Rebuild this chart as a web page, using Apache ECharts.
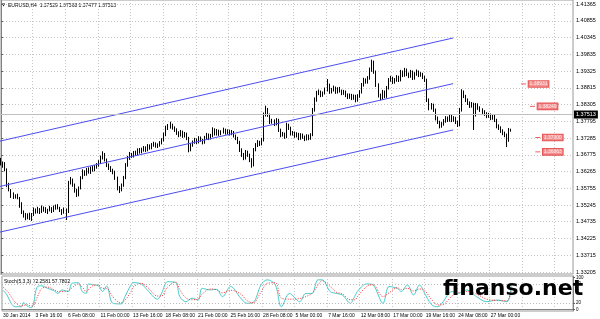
<!DOCTYPE html>
<html><head><meta charset="utf-8">
<script src="https://cdn.jsdelivr.net/npm/echarts@6/dist/echarts.min.js"></script>
<style>html,body{margin:0;padding:0;background:#fff}#c{width:600px;height:319px}</style>
</head><body><div id="c"></div>
<script>
const symbolName = 'EURUSD,H4';
const lastBar = [1.37529, 1.37568, 1.37477, 1.37513];
const tickLabels = ['30 Jan 2014','3 Feb 16:00','6 Feb 08:00','11 Feb 00:00','13 Feb 16:00','18 Feb 08:00','21 Feb 00:00','25 Feb 16:00','28 Feb 08:00','5 Mar 00:00','7 Mar 16:00','12 Mar 08:00','17 Mar 00:00','19 Mar 16:00','24 Mar 08:00','27 Mar 00:00'];
const barsPerTick = 16;
const slotCount = 281;
const priceTicks = [1.41365,1.40855,1.40345,1.39835,1.39325,1.38815,1.38305,1.37795,1.37285,1.36775,1.36265,1.35755,1.35245,1.34735,1.34225,1.33715,1.33205];
const stochTicks = [0,20,80,100];
const stochLevels = [20,80];

const opens = [
1.3660,1.3652,1.3646,1.3631,1.3585,1.3570,1.3555,1.3549,1.3552,1.3546,
1.3525,1.3503,1.3491,1.3485,1.3494,1.3485,1.3497,1.3509,1.3503,1.3512,
1.3506,1.3515,1.3509,1.3503,1.3509,1.3515,1.3509,1.3515,1.3521,1.3515,
1.3509,1.3503,1.3509,1.3503,1.3592,1.3601,1.3585,1.3570,1.3555,1.3576,
1.3607,1.3625,1.3619,1.3631,1.3625,1.3637,1.3631,1.3640,1.3646,1.3655,
1.3668,1.3677,1.3662,1.3646,1.3637,1.3631,1.3625,1.3607,1.3576,1.3570,
1.3585,1.3607,1.3646,1.3668,1.3677,1.3674,1.3683,1.3680,1.3692,1.3686,
1.3692,1.3698,1.3692,1.3704,1.3698,1.3707,1.3710,1.3704,1.3707,1.3713,
1.3722,1.3738,1.3759,1.3762,1.3768,1.3759,1.3753,1.3744,1.3738,1.3747,
1.3735,1.3741,1.3728,1.3692,1.3707,1.3716,1.3722,1.3716,1.3728,1.3722,
1.3716,1.3728,1.3738,1.3728,1.3735,1.3753,1.3741,1.3750,1.3741,1.3747,
1.3753,1.3744,1.3750,1.3741,1.3747,1.3735,1.3728,1.3716,1.3692,1.3677,
1.3668,1.3686,1.3677,1.3662,1.3646,1.3692,1.3707,1.3716,1.3710,1.3722,
1.3799,1.3814,1.3799,1.3777,1.3780,1.3771,1.3783,1.3753,1.3738,1.3741,
1.3732,1.3768,1.3759,1.3741,1.3744,1.3735,1.3741,1.3728,1.3738,1.3732,
1.3725,1.3735,1.3728,1.3738,1.3814,1.3844,1.3865,1.3869,1.3859,1.3865,
1.3875,1.3890,1.3869,1.3875,1.3881,1.3869,1.3878,1.3872,1.3865,1.3869,
1.3859,1.3853,1.3859,1.3850,1.3856,1.3844,1.3856,1.3869,1.3890,1.3905,
1.3899,1.3911,1.3936,1.3960,1.3930,1.3890,1.3859,1.3850,1.3869,1.3856,
1.3881,1.3905,1.3911,1.3899,1.3905,1.3914,1.3905,1.3930,1.3920,1.3936,
1.3923,1.3917,1.3930,1.3911,1.3923,1.3930,1.3920,1.3923,1.3914,1.3905,
1.3844,1.3820,1.3829,1.3814,1.3789,1.3777,1.3765,1.3771,1.3780,1.3789,
1.3783,1.3795,1.3783,1.3789,1.3777,1.3768,1.3814,1.3869,1.3856,1.3844,
1.3835,1.3826,1.3832,1.3799,1.3829,1.3820,1.3814,1.3808,1.3802,1.3795,
1.3799,1.3789,1.3795,1.3783,1.3765,1.3759,1.3750,1.3744,1.3738,1.3722,
1.37529];
const highs = [
1.3668,1.3657,1.3655,1.3636,1.3592,1.3573,1.3563,1.3557,1.3559,1.3549,
1.3533,1.3508,1.3500,1.3499,1.3501,1.3500,1.3517,1.3514,1.3519,1.3515,
1.3523,1.3520,1.3518,1.3513,1.3522,1.3518,1.3523,1.3526,1.3527,1.3519,
1.3512,1.3517,1.3514,1.3598,1.3610,1.3605,1.3590,1.3574,1.3581,1.3612,
1.3633,1.3630,1.3637,1.3639,1.3642,1.3643,1.3646,1.3652,1.3661,1.3675,
1.3688,1.3683,1.3666,1.3651,1.3643,1.3635,1.3629,1.3611,1.3582,1.3590,
1.3613,1.3652,1.3674,1.3686,1.3683,1.3689,1.3690,1.3697,1.3698,1.3699,
1.3704,1.3703,1.3710,1.3709,1.3713,1.3717,1.3715,1.3712,1.3719,1.3728,
1.3745,1.3766,1.3771,1.3778,1.3772,1.3764,1.3758,1.3749,1.3753,1.3751,
1.3747,1.3745,1.3732,1.3713,1.3721,1.3729,1.3727,1.3734,1.3733,1.3726,
1.3735,1.3744,1.3742,1.3741,1.3761,1.3758,1.3756,1.3754,1.3752,1.3760,
1.3757,1.3755,1.3754,1.3753,1.3750,1.3739,1.3732,1.3720,1.3697,1.3683,
1.3692,1.3690,1.3681,1.3667,1.3698,1.3713,1.3722,1.3720,1.3729,1.3806,
1.3827,1.3820,1.3803,1.3787,1.3785,1.3789,1.3787,1.3757,1.3747,1.3745,
1.3775,1.3772,1.3763,1.3750,1.3748,1.3746,1.3744,1.3743,1.3742,1.3736,
1.3740,1.3739,1.3743,1.3820,1.3852,1.3872,1.3876,1.3873,1.3870,1.3882,
1.3908,1.3894,1.3881,1.3888,1.3885,1.3883,1.3884,1.3876,1.3875,1.3873,
1.3864,1.3864,1.3863,1.3861,1.3860,1.3862,1.3874,1.3896,1.3912,1.3910,
1.3917,1.3943,1.3967,1.3964,1.3934,1.3895,1.3864,1.3875,1.3873,1.3887,
1.3911,1.3918,1.3915,1.3911,1.3920,1.3918,1.3936,1.3934,1.3942,1.3940,
1.3928,1.3936,1.3934,1.3929,1.3937,1.3934,1.3929,1.3927,1.3918,1.3909,
1.3849,1.3835,1.3833,1.3818,1.3794,1.3781,1.3777,1.3786,1.3795,1.3794,
1.3801,1.3799,1.3795,1.3793,1.3781,1.3820,1.3877,1.3873,1.3860,1.3849,
1.3840,1.3838,1.3836,1.3835,1.3834,1.3825,1.3819,1.3813,1.3807,1.3805,
1.3803,1.3801,1.3799,1.3787,1.3770,1.3764,1.3755,1.3748,1.3742,1.3759,
1.37568];
const lows = [
1.3645,1.3638,1.3627,1.3579,1.3566,1.3546,1.3543,1.3544,1.3542,1.3516,
1.3497,1.3486,1.3478,1.3481,1.3479,1.3476,1.3491,1.3498,1.3499,1.3497,
1.3500,1.3504,1.3500,1.3497,1.3505,1.3500,1.3503,1.3510,1.3511,1.3503,
1.3494,1.3498,1.3479,1.3500,1.3587,1.3580,1.3562,1.3549,1.3551,1.3572,
1.3603,1.3613,1.3614,1.3620,1.3619,1.3626,1.3627,1.3635,1.3641,1.3650,
1.3663,1.3657,1.3640,1.3631,1.3625,1.3618,1.3601,1.3569,1.3561,1.3566,
1.3580,1.3603,1.3641,1.3662,1.3668,1.3669,1.3675,1.3676,1.3681,1.3682,
1.3687,1.3686,1.3688,1.3693,1.3694,1.3702,1.3699,1.3698,1.3702,1.3709,
1.3718,1.3734,1.3753,1.3757,1.3754,1.3747,1.3738,1.3731,1.3733,1.3729,
1.3730,1.3722,1.3685,1.3688,1.3702,1.3711,1.3710,1.3712,1.3717,1.3709,
1.3711,1.3723,1.3722,1.3724,1.3731,1.3736,1.3736,1.3735,1.3737,1.3742,
1.3739,1.3739,1.3736,1.3737,1.3730,1.3722,1.3710,1.3686,1.3671,1.3661,
1.3663,1.3671,1.3655,1.3638,1.3642,1.3688,1.3701,1.3704,1.3706,1.3718,
1.3794,1.3793,1.3771,1.3772,1.3765,1.3767,1.3747,1.3731,1.3733,1.3726,
1.3728,1.3753,1.3736,1.3736,1.3729,1.3730,1.3722,1.3723,1.3726,1.3719,
1.3721,1.3722,1.3723,1.3734,1.3809,1.3839,1.3859,1.3853,1.3854,1.3861,
1.3870,1.3863,1.3864,1.3870,1.3863,1.3864,1.3867,1.3859,1.3860,1.3853,
1.3847,1.3848,1.3844,1.3845,1.3837,1.3839,1.3851,1.3864,1.3885,1.3894,
1.3894,1.3906,1.3930,1.3924,1.3884,1.3852,1.3843,1.3845,1.3850,1.3851,
1.3876,1.3900,1.3893,1.3894,1.3900,1.3899,1.3901,1.3914,1.3915,1.3917,
1.3911,1.3912,1.3905,1.3906,1.3918,1.3914,1.3915,1.3908,1.3899,1.3838,
1.3813,1.3815,1.3808,1.3782,1.3771,1.3758,1.3760,1.3766,1.3775,1.3777,
1.3778,1.3777,1.3778,1.3771,1.3762,1.3764,1.3809,1.3850,1.3838,1.3829,
1.3820,1.3821,1.3753,1.3794,1.3814,1.3808,1.3802,1.3796,1.3789,1.3790,
1.3783,1.3784,1.3777,1.3758,1.3753,1.3744,1.3737,1.3731,1.3701,1.3717,
1.37477];
const closes = [
1.3652,1.3646,1.3631,1.3585,1.3570,1.3555,1.3549,1.3552,1.3546,1.3525,
1.3503,1.3491,1.3485,1.3494,1.3485,1.3497,1.3509,1.3503,1.3512,1.3506,
1.3515,1.3509,1.3503,1.3509,1.3515,1.3509,1.3515,1.3521,1.3515,1.3509,
1.3503,1.3509,1.3503,1.3592,1.3601,1.3585,1.3570,1.3555,1.3576,1.3607,
1.3625,1.3619,1.3631,1.3625,1.3637,1.3631,1.3640,1.3646,1.3655,1.3668,
1.3677,1.3662,1.3646,1.3637,1.3631,1.3625,1.3607,1.3576,1.3570,1.3585,
1.3607,1.3646,1.3668,1.3677,1.3674,1.3683,1.3680,1.3692,1.3686,1.3692,
1.3698,1.3692,1.3704,1.3698,1.3707,1.3710,1.3704,1.3707,1.3713,1.3722,
1.3738,1.3759,1.3762,1.3768,1.3759,1.3753,1.3744,1.3738,1.3747,1.3735,
1.3741,1.3728,1.3692,1.3707,1.3716,1.3722,1.3716,1.3728,1.3722,1.3716,
1.3728,1.3738,1.3728,1.3735,1.3753,1.3741,1.3750,1.3741,1.3747,1.3753,
1.3744,1.3750,1.3741,1.3747,1.3735,1.3728,1.3716,1.3692,1.3677,1.3668,
1.3686,1.3677,1.3662,1.3646,1.3692,1.3707,1.3716,1.3710,1.3722,1.3799,
1.3814,1.3799,1.3777,1.3780,1.3771,1.3783,1.3753,1.3738,1.3741,1.3732,
1.3768,1.3759,1.3741,1.3744,1.3735,1.3741,1.3728,1.3738,1.3732,1.3725,
1.3735,1.3728,1.3738,1.3814,1.3844,1.3865,1.3869,1.3859,1.3865,1.3875,
1.3890,1.3869,1.3875,1.3881,1.3869,1.3878,1.3872,1.3865,1.3869,1.3859,
1.3853,1.3859,1.3850,1.3856,1.3844,1.3856,1.3869,1.3890,1.3905,1.3899,
1.3911,1.3936,1.3960,1.3930,1.3890,1.3859,1.3850,1.3869,1.3856,1.3881,
1.3905,1.3911,1.3899,1.3905,1.3914,1.3905,1.3930,1.3920,1.3936,1.3923,
1.3917,1.3930,1.3911,1.3923,1.3930,1.3920,1.3923,1.3914,1.3905,1.3844,
1.3820,1.3829,1.3814,1.3789,1.3777,1.3765,1.3771,1.3780,1.3789,1.3783,
1.3795,1.3783,1.3789,1.3777,1.3768,1.3814,1.3869,1.3856,1.3844,1.3835,
1.3826,1.3832,1.3799,1.3829,1.3820,1.3814,1.3808,1.3802,1.3795,1.3799,
1.3789,1.3795,1.3783,1.3765,1.3759,1.3750,1.3744,1.3738,1.3722,1.3753,
1.37513];

const stochIdx = [0,2,4,6,9,10,12,14,15,17,19,22,25,27,29,32,34,37,39,41,42,45,47,49,51,54,58,60,63,64,68,71,76,78,81,85,87,90,93,96,98,102,105,108,112,117,120,123,127,130,134,137,141,146,149,152,155,157,161,164,167,171,173,175,179,182,187,190,194,196,199,202,205,207,211,214,216,221,224,228,233,238,243,248,250];
const stochMain = [60,45,19,8,8,21,10,5,19,72,74,66,59,50,61,56,82,84,56,50,80,77,74,56,74,19,17,40,77,84,80,61,32,50,87,84,40,24,35,29,66,61,63,40,72,35,19,21,77,93,77,8,50,24,50,50,93,93,56,50,45,19,40,61,80,77,19,72,66,56,77,45,77,56,14,8,19,56,50,61,40,24,29,24,72.2581];
const stochSignal = [70,58,40,22,10,12,14,10,12,40,65,70,62,56,56,58,68,80,70,56,62,76,76,66,66,40,20,28,56,70,82,70,42,42,70,86,62,36,30,32,48,64,62,52,60,48,28,20,55,82,84,35,32,34,40,50,76,90,72,54,48,30,30,45,72,78,40,52,68,62,66,58,64,62,30,14,14,42,52,56,48,32,28,27,57.7802];

const chanX = [-0.5, 221.7];
const chanUpper = [1.3719, 1.4033];
const chanMid = [1.3581, 1.3894];
const chanLower = [1.3442, 1.3753];

const priceLabelX = [255, 259.4, 262, 262];
const priceLabels = [1.38931, 1.38249, 1.37300, 1.36863];

const cats = [];
for (let i = 0; i < slotCount; i++) cats.push(i % barsPerTick === 0 && tickLabels[i / barsPerTick] ? tickLabels[i / barsPerTick] : 's' + i);
const candleData = closes.map((c, i) => [opens[i], c, lows[i], highs[i]]);
const lastClose = closes[closes.length - 1];

const FONT = 'Liberation Sans';
const gridLine = {show: true, interval: barsPerTick - 1, lineStyle: {color: '#c6c6c6', type: [1, 2], width: 1}};

const chart = echarts.init(document.getElementById('c'), null, {renderer: 'canvas'});
chart.setOption({
  animation: false,
  backgroundColor: '#ffffff',
  grid: [
    {left: 0, right: 27, top: 0, height: 274, show: true, borderColor: '#9a9a9a', borderWidth: 1},
    {left: 0, right: 27, top: 276, height: 35, show: true, borderColor: '#9a9a9a', borderWidth: 1}
  ],
  xAxis: [
    {type: 'category', gridIndex: 0, data: cats, boundaryGap: true, axisLine: {show: false}, axisTick: {show: false}, axisLabel: {show: false}, splitLine: gridLine},
    {type: 'category', gridIndex: 1, data: cats, boundaryGap: true, axisLine: {show: true, lineStyle: {color: '#808080'}}, axisTick: {show: false},
      axisLabel: {show: true, interval: barsPerTick - 1, formatter: (v, idx) => (idx % barsPerTick === 0 && tickLabels[idx / barsPerTick]) || '', fontSize: 5, fontFamily: FONT, color: '#000', align: 'left', margin: 2},
      splitLine: gridLine},
    {type: 'value', gridIndex: 0, min: -0.5, max: slotCount - 0.5, show: false}
  ],
  yAxis: [
    {type: 'value', gridIndex: 0, position: 'right', min: 1.33144, max: 1.41487, scale: true,
      axisLine: {show: true, lineStyle: {color: '#808080'}},
      axisTick: {show: true, length: 2, customValues: priceTicks, lineStyle: {color: '#606060'}},
      axisLabel: {customValues: priceTicks, formatter: v => v.toFixed(5), fontSize: 5.5, fontFamily: FONT, color: '#000', margin: 3},
      splitLine: {show: true, lineStyle: {color: '#c6c6c6', type: [1, 2], width: 1}}},
    {type: 'value', gridIndex: 1, position: 'right', min: -5.4, max: 105,
      axisLine: {show: true, lineStyle: {color: '#808080'}},
      axisTick: {show: true, length: 2, customValues: stochTicks, lineStyle: {color: '#606060'}},
      axisLabel: {customValues: stochTicks, fontSize: 4.5, fontFamily: FONT, color: '#000', margin: 3},
      splitLine: {show: false}}
  ],
  series: [
    {type: 'candlestick', xAxisIndex: 0, yAxisIndex: 0, data: candleData, barWidth: 1,
      itemStyle: {color: '#000', color0: '#000', borderColor: '#000', borderColor0: '#000', borderWidth: 1},
      markLine: {silent: true, symbol: 'none', data: [{yAxis: lastClose}],
        lineStyle: {color: '#c0c0c0', type: 'solid', width: 1},
        label: {show: true, position: 'end', distance: 1, formatter: () => lastClose.toFixed(5), backgroundColor: '#000', color: '#fff', fontSize: 5.5, fontFamily: FONT, padding: [1, 2, 1, 2]}}},
    {type: 'line', xAxisIndex: 2, yAxisIndex: 0, data: chanX.map((x, i) => [x, chanUpper[i]]), symbol: 'none', lineStyle: {color: '#4d4df2', width: 1}},
    {type: 'line', xAxisIndex: 2, yAxisIndex: 0, data: chanX.map((x, i) => [x, chanMid[i]]), symbol: 'none', lineStyle: {color: '#4d4df2', width: 1}},
    {type: 'line', xAxisIndex: 2, yAxisIndex: 0, data: chanX.map((x, i) => [x, chanLower[i]]), symbol: 'none', lineStyle: {color: '#4d4df2', width: 1}},
    {type: 'scatter', xAxisIndex: 2, yAxisIndex: 0, data: priceLabelX.map((x, i) => [x, priceLabels[i]]),
      symbol: 'rect', symbolSize: [5, 1], symbolOffset: [2.5, 0], itemStyle: {color: '#e53935'},
      label: {show: true, position: 'right', distance: 2.5, formatter: p => p.value[1].toFixed(5), fontSize: 5, fontFamily: FONT, color: '#fff',
        backgroundColor: '#f07a7a', borderColor: '#e02a2a', borderWidth: 0.8, padding: [1, 1, 0, 1]}},
    {type: 'line', xAxisIndex: 1, yAxisIndex: 1, data: stochIdx.map((x, i) => [x, stochMain[i]]), symbol: 'none', smooth: 0.35,
      lineStyle: {color: '#48cccc', width: 1},
      markLine: {silent: true, symbol: 'none', data: stochLevels.map(v => ({yAxis: v})), label: {show: false}, lineStyle: {color: '#b8b8b8', type: [1, 2], width: 1}}},
    {type: 'line', xAxisIndex: 1, yAxisIndex: 1, data: stochIdx.map((x, i) => [x, stochSignal[i]]), symbol: 'none', smooth: 0.35,
      lineStyle: {color: '#ff3030', width: 1, type: [1, 1.5]}}
  ],
  graphic: [
    {type: 'text', left: 2, top: 3, style: {text: '▼', fontSize: 4, fontFamily: 'DejaVu Sans', fill: '#000'}},
    {type: 'text', left: 8, top: 3, style: {text: symbolName + '  ' + lastBar.map(v => v.toFixed(5)).join(' '), fontSize: 5, fontFamily: FONT, fill: '#000'}},
    {type: 'text', left: 4, top: 279, style: {text: 'Stoch(5,3,3) ' + stochMain[stochMain.length - 1].toFixed(4) + ' ' + stochSignal[stochSignal.length - 1].toFixed(4), fontSize: 5, fontFamily: FONT, fill: '#000'}},
    {type: 'text', left: 443, top: 278, z: 100, style: {text: 'finanso.net', fontSize: 22, fontWeight: 'bold', fontFamily: 'DejaVu Sans', fill: '#000'}}
  ]
});
</script></body></html>
